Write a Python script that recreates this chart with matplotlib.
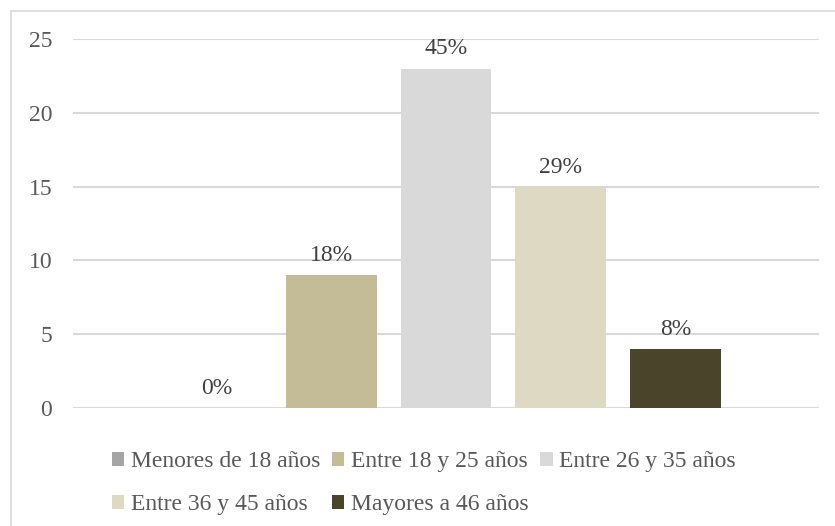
import matplotlib
matplotlib.use("Agg")
import matplotlib.pyplot as plt
from matplotlib.patches import Rectangle, Patch

# Age groups and respondent counts
grupos = ["Menores de 18 años", "Entre 18 y 25 años", "Entre 26 y 35 años",
          "Entre 36 y 45 años", "Mayores a 46 años"]
conteos = [0, 9, 23, 15, 4]
colores = ["#A5A5A5", "#C4BC96", "#D9D9D9", "#DDD9C3", "#4A452A"]
yticks = [0, 5, 10, 15, 20, 25]

total = sum(conteos)
porcentajes = [f"{round(c / total * 100):.0f}%" for c in conteos]

plt.rcParams["font.family"] = ["Liberation Serif", "DejaVu Serif"]

W, H = 835, 526
fig = plt.figure(figsize=(W / 100, H / 100), dpi=100)
fig.patch.set_facecolor("white")

# chart frame
fig.patches.append(Rectangle((11 / W, -0.2), 2, (H - 11) / H + 0.2,
                             transform=fig.transFigure, fill=False,
                             edgecolor="#D9D9D9", linewidth=1.2))

ax = fig.add_axes([73 / W, (H - 408) / H, (819 - 73) / W, (408 - 39) / H])

x = list(range(len(grupos)))
barras = ax.bar(x, conteos, width=91 / 115, color=colores, zorder=3)
ax.bar_label(barras, labels=porcentajes, padding=6.5, fontsize=17,
             color="#404040", clip_on=False)

ax.set_xlim(-(216.5 - 73) / 115, 4 + (819 - 675.5) / 115)
ax.set_ylim(0, 25)
ax.set_yticks(yticks)
ax.set_xticks([])
ax.yaxis.grid(True, color="#D9D9D9", linewidth=1.5, zorder=0)
ax.tick_params(axis="y", length=0, pad=15, labelsize=17, labelcolor="#595959")
for s in ax.spines.values():
    s.set_visible(False)

handles = [Patch(facecolor=c, edgecolor="none") for c in colores]
orden = [0, 3, 1, 4, 2]
leg = fig.legend([handles[i] for i in orden], [grupos[i] for i in orden],
                 ncol=3, loc="upper left", bbox_to_anchor=(112 / W, 1 - 451 / H),
                 frameon=False, fontsize=17, handlelength=0.52, handleheight=0.52,
                 handletextpad=0.28, columnspacing=0.5, labelspacing=0.95,
                 borderaxespad=0, borderpad=0)
for t in leg.get_texts():
    t.set_color("#595959")

fig.savefig("out.png", dpi=100, facecolor="white")
